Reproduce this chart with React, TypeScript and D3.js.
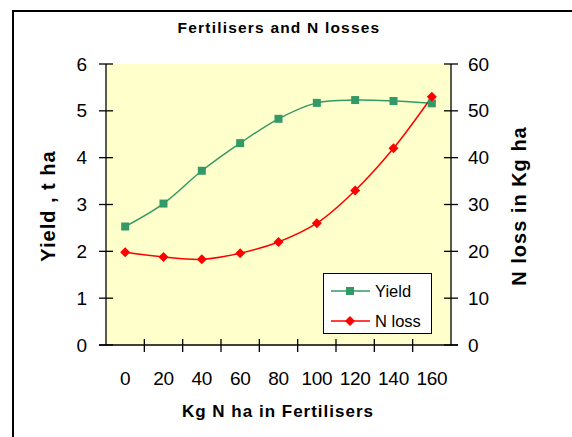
import React, { useEffect, useRef } from 'react';
import * as d3 from 'd3';

const categories = ['0', '20', '40', '60', '80', '100', '120', '140', '160'];
const yieldValues = [2.53, 3.02, 3.72, 4.31, 4.83, 5.17, 5.23, 5.21, 5.16];
const nLossValues = [19.8, 18.8, 18.3, 19.6, 22, 26, 33, 42, 53];
const leftTicks = [0, 1, 2, 3, 4, 5, 6];
const rightTicks = [0, 10, 20, 30, 40, 50, 60];

const App = () => {
  const svgRef = useRef<SVGSVGElement>(null);

  useEffect(() => {
    const svg = d3.select(svgRef.current);
    svg.selectAll('*').remove();
    const font = 'Liberation Sans, Arial, sans-serif';
    const left = 106, right = 451, top = 64, bottom = 345;

    const x = d3.scaleBand().domain(categories).range([left, right]);
    const yL = d3.scaleLinear().domain([0, 6]).range([bottom, top]);
    const yR = d3.scaleLinear().domain([0, 60]).range([bottom, top]);

    svg.append('rect').attr('width', 572).attr('height', 437).attr('fill', '#fff');
    // outer chart border (left and top visible)
    svg.append('path').attr('d', 'M13,437V11H572').attr('fill', 'none')
      .attr('stroke', '#000').attr('stroke-width', 2);

    svg.append('text').attr('x', 279).attr('y', 33).attr('text-anchor', 'middle')
      .attr('font-family', font).attr('font-weight', 'bold').attr('font-size', 15.5)
      .attr('letter-spacing', 1.2).text('Fertilisers and N losses');

    svg.append('rect').attr('x', left).attr('y', top).attr('width', right - left)
      .attr('height', bottom - top).attr('fill', '#FFFFCC');

    const axes = svg.append('g').attr('stroke', '#000').attr('stroke-width', 1.3);
    axes.append('line').attr('x1', left).attr('x2', left).attr('y1', top).attr('y2', bottom);
    axes.append('line').attr('x1', right).attr('x2', right).attr('y1', top).attr('y2', bottom);
    axes.append('line').attr('x1', left - 7).attr('x2', right + 7).attr('y1', bottom).attr('y2', bottom);

    leftTicks.forEach(t => {
      axes.append('line').attr('x1', left - 7).attr('x2', left + 7).attr('y1', yL(t)).attr('y2', yL(t));
      svg.append('text').attr('x', 87).attr('y', yL(t)).attr('dy', '0.35em')
        .attr('text-anchor', 'end').attr('font-family', font).attr('font-size', 19).text(t);
    });
    rightTicks.forEach(t => {
      axes.append('line').attr('x1', right - 7).attr('x2', right + 7).attr('y1', yR(t)).attr('y2', yR(t));
      svg.append('text').attr('x', 468).attr('y', yR(t)).attr('dy', '0.35em')
        .attr('text-anchor', 'start').attr('font-family', font).attr('font-size', 19).text(t);
    });
    const bw = x.bandwidth();
    categories.forEach((c, i) => {
      const xt = (x(c) as number);
      if (i > 0) axes.append('line').attr('x1', xt).attr('x2', xt).attr('y1', bottom - 6).attr('y2', bottom + 7);
      svg.append('text').attr('x', xt + bw / 2).attr('y', 385).attr('text-anchor', 'middle')
        .attr('font-family', font).attr('font-size', 19).attr('letter-spacing', -0.3).text(c);
    });

    svg.append('text').attr('x', 278).attr('y', 417).attr('text-anchor', 'middle')
      .attr('font-family', font).attr('font-weight', 'bold').attr('font-size', 17)
      .attr('letter-spacing', 1).text('Kg N ha in Fertilisers');
    svg.append('text').attr('transform', 'translate(55,206) rotate(-90)').attr('text-anchor', 'middle')
      .attr('font-family', font).attr('font-weight', 'bold').attr('font-size', 20)
      .attr('letter-spacing', 1).text('Yield , t ha');
    svg.append('text').attr('transform', 'translate(526,206) rotate(-90)').attr('text-anchor', 'middle')
      .attr('font-family', font).attr('font-weight', 'bold').attr('font-size', 20)
      .attr('letter-spacing', 1).text('N loss in Kg ha');

    const cx = (i: number) => (x(categories[i]) as number) + bw / 2;
    const yieldLine = d3.line<number>().x((d, i) => cx(i)).y(d => yL(d)).curve(d3.curveCatmullRom);
    const lossLine = d3.line<number>().x((d, i) => cx(i)).y(d => yR(d)).curve(d3.curveCatmullRom);

    svg.append('path').attr('d', yieldLine(yieldValues)).attr('fill', 'none')
      .attr('stroke', '#339966').attr('stroke-width', 1.5);
    svg.append('path').attr('d', lossLine(nLossValues)).attr('fill', 'none')
      .attr('stroke', '#FF0000').attr('stroke-width', 1.5);

    svg.selectAll('rect.ym').data(yieldValues).enter().append('rect').attr('class', 'ym')
      .attr('x', (d, i) => cx(i) - 4).attr('y', d => yL(d) - 4).attr('width', 8).attr('height', 8)
      .attr('fill', '#339966');
    svg.selectAll('path.nm').data(nLossValues).enter().append('path').attr('class', 'nm')
      .attr('d', (d, i) => `M${cx(i)},${yR(d) - 5}l5,5l-5,5l-5,-5z`).attr('fill', '#FF0000');

    // legend
    const lg = svg.append('g');
    lg.append('rect').attr('x', 323.5).attr('y', 273.5).attr('width', 108).attr('height', 60)
      .attr('fill', '#fff').attr('stroke', '#000').attr('stroke-width', 1);
    lg.append('line').attr('x1', 331).attr('x2', 370).attr('y1', 291).attr('y2', 291)
      .attr('stroke', '#339966').attr('stroke-width', 1.5);
    lg.append('rect').attr('x', 346).attr('y', 287).attr('width', 8).attr('height', 8).attr('fill', '#339966');
    lg.append('text').attr('x', 375).attr('y', 291).attr('dy', '0.35em')
      .attr('font-family', font).attr('font-size', 16.5).text('Yield');
    lg.append('line').attr('x1', 331).attr('x2', 370).attr('y1', 321).attr('y2', 321)
      .attr('stroke', '#FF0000').attr('stroke-width', 1.5);
    lg.append('path').attr('d', 'M350,316l5,5l-5,5l-5,-5z').attr('fill', '#FF0000');
    lg.append('text').attr('x', 375).attr('y', 321).attr('dy', '0.35em')
      .attr('font-family', font).attr('font-size', 16.5).text('N loss');
  }, []);

  return <svg ref={svgRef} width={572} height={437} style={{ display: 'block', position: 'absolute', left: 0, top: 0 }}></svg>;
};

export default App;
